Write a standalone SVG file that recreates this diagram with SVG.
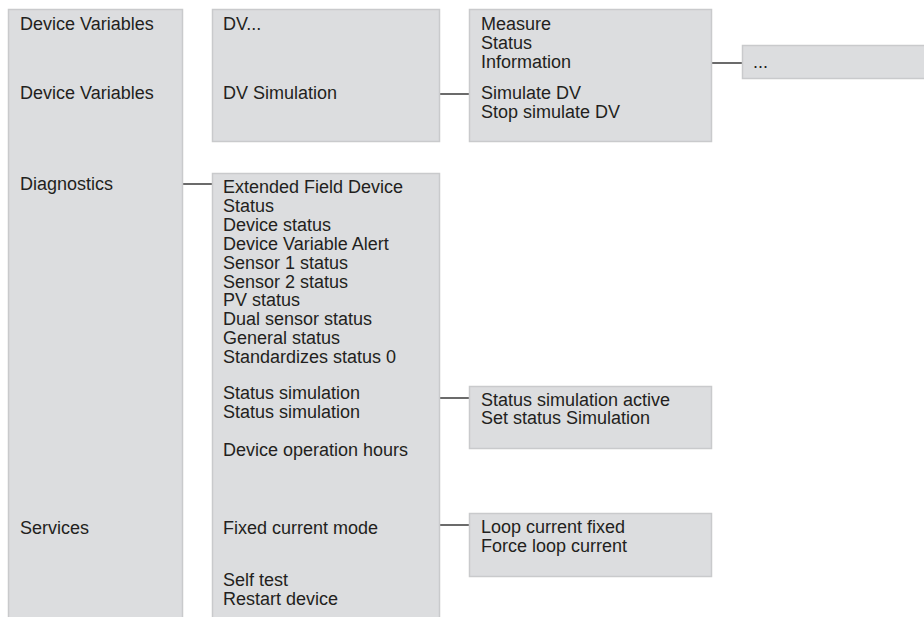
<svg xmlns="http://www.w3.org/2000/svg" width="924" height="617" viewBox="0 0 924 617">
<style>
.box{fill:#dcdddf;stroke:#c9cacc;stroke-width:1.5}
.t{font-family:"Liberation Sans",Arial,sans-serif;font-size:18px;fill:#231f20}
.c{stroke:#6b6b6b;stroke-width:2;fill:none}
</style>
<rect width="924" height="617" fill="#ffffff"/>
<g id="connectors">
<line class="c" x1="183" y1="184" x2="212" y2="184"/>
<line class="c" x1="440" y1="94" x2="469" y2="94"/>
<line class="c" x1="712" y1="63" x2="742" y2="63"/>
<line class="c" x1="440" y1="398" x2="469" y2="398"/>
<line class="c" x1="440" y1="525" x2="469" y2="525"/>
</g>
<g id="menu-root">
<rect class="box" x="8.5" y="9.5" width="174" height="615"/>
<text class="t" x="20" y="30">Device Variables</text>
<text class="t" x="20" y="99">Device Variables</text>
<text class="t" x="20" y="190">Diagnostics</text>
<text class="t" x="20" y="534">Services</text>
</g>
<g id="dv-menu">
<rect class="box" x="212.5" y="9.5" width="227" height="132"/>
<text class="t" x="223" y="30">DV...</text>
<text class="t" x="223" y="99">DV Simulation</text>
</g>
<g id="dv-sub">
<rect class="box" x="469.5" y="9.5" width="242" height="132"/>
<text class="t" x="481" y="30">Measure</text>
<text class="t" x="481" y="49">Status</text>
<text class="t" x="481" y="68">Information</text>
<text class="t" x="481" y="99">Simulate DV</text>
<text class="t" x="481" y="118">Stop simulate DV</text>
</g>
<g id="more">
<rect class="box" x="742.5" y="45.5" width="190" height="33"/>
<text class="t" x="753" y="68">...</text>
</g>
<g id="diagnostics-menu">
<rect class="box" x="212.5" y="173.5" width="227" height="450"/>
<text class="t" x="223" y="193">Extended Field Device</text>
<text class="t" x="223" y="212">Status</text>
<text class="t" x="223" y="231">Device status</text>
<text class="t" x="223" y="250">Device Variable Alert</text>
<text class="t" x="223" y="269">Sensor 1 status</text>
<text class="t" x="223" y="288">Sensor 2 status</text>
<text class="t" x="223" y="306">PV status</text>
<text class="t" x="223" y="325">Dual sensor status</text>
<text class="t" x="223" y="344">General status</text>
<text class="t" x="223" y="363">Standardizes status 0</text>
<text class="t" x="223" y="399">Status simulation</text>
<text class="t" x="223" y="418">Status simulation</text>
<text class="t" x="223" y="456">Device operation hours</text>
<text class="t" x="223" y="534">Fixed current mode</text>
<text class="t" x="223" y="586">Self test</text>
<text class="t" x="223" y="605">Restart device</text>
</g>
<g id="status-sim">
<rect class="box" x="469.5" y="386.5" width="242" height="62"/>
<text class="t" x="481" y="406">Status simulation active</text>
<text class="t" x="481" y="424">Set status Simulation</text>
</g>
<g id="loop-current">
<rect class="box" x="469.5" y="513.5" width="242" height="63"/>
<text class="t" x="481" y="533">Loop current fixed</text>
<text class="t" x="481" y="552">Force loop current</text>
</g>
</svg>
